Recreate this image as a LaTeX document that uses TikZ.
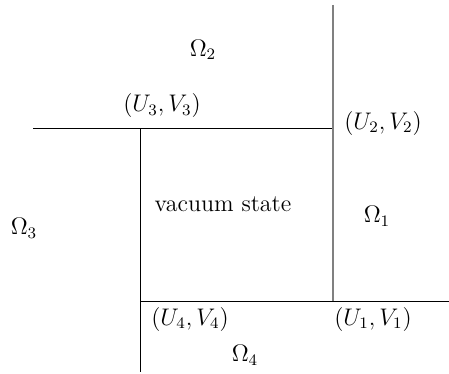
\documentclass[tikz,border=0pt]{standalone}
\begin{document}
\begin{tikzpicture}[x=0.5pt,y=-0.5pt,
  lbl/.style={inner sep=0pt,font=\large},
  blk/.style={line width=0.45pt,black},
  gry/.style={line width=0.6pt,gray}]
\useasboundingbox (0,0) rectangle (449,374);
\coordinate (TL) at (33,128);
\coordinate (TR) at (333,128);
\coordinate (TT) at (333,5);
\coordinate (BR) at (333,301);
\coordinate (BL) at (140,301);
\coordinate (BB) at (140,372);
\coordinate (LT) at (140,128);
\coordinate (RR) at (449,301);
\draw[blk] (TL) -- (TR);
\draw[blk] (LT) -- (BB);
\draw[blk] (BL) -- (RR);
\draw[gry] (TT) -- (BR);
\node[lbl] (o2) at (203,50) {$\Omega_2$};
\node[lbl] (p3) at (162,106) {$(U_3,V_3)$};
\node[lbl] (p2) at (383,123) {$(U_2,V_2)$};
\node[lbl] (vs) at (223,204) {vacuum state};
\node[lbl] (o1) at (377,216) {$\Omega_1$};
\node[lbl] (o3) at (24,228) {$\Omega_3$};
\node[lbl] (p4) at (190,319) {$(U_4,V_4)$};
\node[lbl] (p1) at (373,319) {$(U_1,V_1)$};
\node[lbl] (o4) at (245,355) {$\Omega_4$};
\end{tikzpicture}
\end{document}
